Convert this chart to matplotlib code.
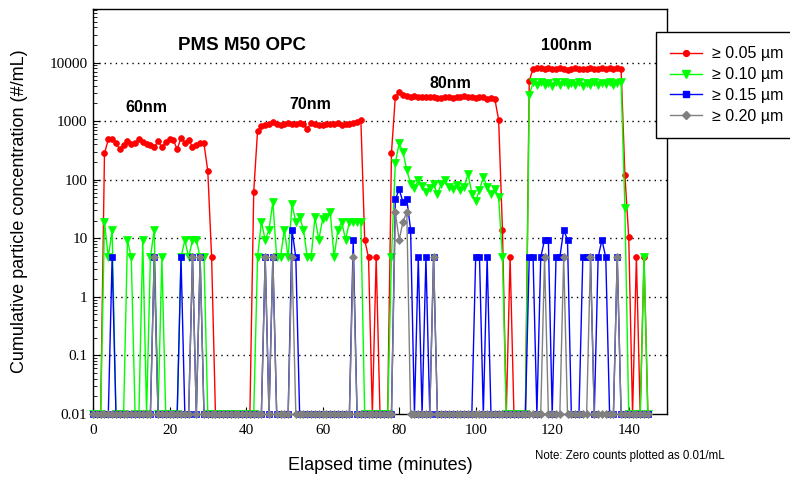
import numpy as np
import matplotlib
matplotlib.use("Agg")
import matplotlib.pyplot as plt
from matplotlib.lines import Line2D

Z = 0.01  # zero counts plotted as 0.01/mL

# elapsed time (minutes), one sample per minute
time_min = list(range(146))

red_005 = [
    Z, Z, Z, 280, 490, 490, 415, 330, 390, 455,
    400, 425, 490, 445, 400, 390, 355, 460, 355, 445,
    490, 475, 330, 520, 425, 475, 365, 390, 425, 415,
    140, 4.7, Z, Z, Z, Z, Z, Z, Z, Z,
    Z, Z, 62, 680, 820, 870, 880, 950, 900, 860,
    880, 940, 900, 880, 920, 900, 740, 930, 880, 860,
    850, 880, 900, 880, 920, 860, 880, 900, 920, 960,
    1050, 9.4, 4.7, Z, 4.7, Z, Z, Z, 290, 2600,
    3100, 2800, 2700, 2600, 2650, 2550, 2600, 2600, 2550, 2600,
    2500, 2500, 2550, 2600, 2450, 2550, 2600, 2650, 2550, 2600,
    2450, 2550, 2600, 2400, 2500, 2400, 1050, 14, Z, 4.7,
    Z, Z, Z, Z, 4900, 7800, 8200, 8000, 7800, 8100,
    7700, 7900, 8100, 7800, 7600, 7900, 8100, 7700, 7900, 7800,
    8100, 7800, 7700, 8000, 7800, 8100, 7800, 8000, 7900, 120,
    10.4, Z, 4.7, Z, 4.7, Z,
]

green_010 = [
    Z, Z, Z, 19, 4.7, 14, Z, Z, Z, 9.4,
    4.7, Z, Z, 9.4, Z, 4.7, 14, Z, 4.7, Z,
    Z, Z, Z, 4.7, 9.4, 4.7, 9.4, 9.4, 4.7, 4.7,
    Z, Z, Z, Z, Z, Z, Z, Z, Z, Z,
    Z, Z, Z, 4.7, 19, 9.4, 14, 42, 4.7, 4.7,
    14, 4.7, 38, 19, 23, 14, 4.7, 4.7, 23, 9.4,
    21, 23, 28, 4.7, 14, 19, 9.4, 19, 19, 19,
    19, Z, Z, Z, Z, Z, Z, Z, 4.7, 194,
    415, 300, 145, 86, 73, 98, 77, 62, 73, 86,
    56, 86, 98, 75, 70, 80, 67, 75, 127, 58,
    44, 66, 111, 75, 58, 70, 50, 4.7, Z, Z,
    Z, Z, Z, Z, 2750, 4600, 4100, 4700, 4200, 4500,
    4000, 4600, 4200, 4700, 4100, 4500, 4200, 4600, 4000, 4500,
    4200, 4700, 4100, 4500, 4300, 4600, 4100, 4500, 4700, 33,
    Z, Z, Z, Z, 4.7, Z,
]

blue_015 = [
    Z, Z, Z, Z, Z, 4.7, Z, Z, Z, Z,
    Z, Z, Z, Z, Z, Z, 4.7, Z, Z, Z,
    Z, Z, Z, 4.7, Z, Z, 4.7, Z, 4.7, Z,
    Z, Z, Z, Z, Z, Z, Z, Z, Z, Z,
    Z, Z, Z, Z, Z, 4.7, Z, 4.7, Z, Z,
    Z, Z, 14, 4.7, Z, Z, Z, Z, Z, Z,
    Z, Z, Z, Z, Z, Z, Z, Z, 9.4, Z,
    Z, Z, Z, Z, Z, Z, Z, Z, Z, 46,
    68, 42, 46, 14, Z, 4.7, Z, 4.7, Z, 4.7,
    Z, Z, Z, Z, Z, Z, Z, Z, Z, Z,
    4.7, 4.7, Z, 4.7, Z, Z, Z, Z, Z, Z,
    Z, Z, Z, Z, 4.7, 4.7, Z, 4.7, 9.4, 9.4,
    Z, 4.7, 4.7, 14, 9.4, Z, Z, Z, 4.7, 4.7,
    4.7, Z, 4.7, 9.4, 4.7, Z, Z, 4.7, Z, Z,
    Z, Z, Z, Z, Z, Z,
]

gray_020 = [
    Z, Z, Z, Z, Z, Z, Z, Z, Z, Z,
    Z, Z, Z, Z, Z, Z, 4.7, Z, Z, Z,
    Z, Z, Z, Z, Z, Z, 4.7, Z, 4.7, Z,
    Z, Z, Z, Z, Z, Z, Z, Z, Z, Z,
    Z, Z, Z, Z, Z, 4.7, Z, 4.7, Z, Z,
    Z, Z, 4.7, Z, Z, Z, Z, Z, Z, Z,
    Z, Z, Z, Z, Z, Z, Z, Z, 4.7, Z,
    Z, Z, Z, Z, Z, Z, Z, Z, Z, 28,
    9.4, 19, 28, Z, Z, Z, Z, Z, Z, 4.7,
    Z, Z, Z, Z, Z, Z, Z, Z, Z, Z,
    Z, Z, Z, Z, Z, Z, Z, Z, Z, Z,
    Z, Z, Z, Z, Z, Z, Z, Z, 4.7, Z,
    Z, Z, Z, 4.7, Z, Z, Z, Z, Z, Z,
    4.7, Z, Z, Z, Z, Z, Z, 4.7, Z, Z,
    Z, Z, Z, Z, Z, Z,
]

legend_labels = ["\u2265 0.05 \u00b5m", "\u2265 0.10 \u00b5m", "\u2265 0.15 \u00b5m", "\u2265 0.20 \u00b5m"]
y_ticks = [0.01, 0.1, 1, 10, 100, 1000, 10000]
y_tick_labels = ["0.01", "0.1", "1", "10", "100", "1000", "10000"]
x_ticks = [0, 20, 40, 60, 80, 100, 120, 140]

series = [
    (red_005, "#ff0000", "o", 4.2),
    (green_010, "#00ff00", "v", 5.5),
    (blue_015, "#0000ff", "s", 4.5),
    (gray_020, "#808080", "D", 4.2),
]

W, H = 790, 479
fig = plt.figure(figsize=(W / 100, H / 100), dpi=100)
ax = fig.add_axes([93 / W, 1 - 414 / H, (667 - 93) / W, (414 - 9) / H])

handles = []
for vals, col, mk, ms in series:
    ax.plot(time_min, vals, color=col, marker=mk, markersize=ms, lw=1.0,
            markeredgewidth=0.5, markeredgecolor=col, clip_on=False, zorder=3)
    handles.append(Line2D([0], [0], color=col, marker=mk, markersize=ms, lw=1.0,
                          markeredgecolor=col))

ax.set_yscale("log")
ax.set_ylim(0.01, 82000)
ax.set_xlim(0, 150)
ax.set_yticks(y_ticks)
ax.set_yticklabels(y_tick_labels)
ax.set_xticks(x_ticks)
ax.set_xticklabels([str(v) for v in x_ticks])
ax.yaxis.set_minor_locator(matplotlib.ticker.LogLocator(base=10, subs=np.arange(2, 10)))
ax.yaxis.set_minor_formatter(matplotlib.ticker.NullFormatter())
ax.tick_params(axis="both", which="both", direction="in")
ax.tick_params(axis="y", which="major", length=5, pad=4)
ax.tick_params(axis="y", which="minor", length=3)
ax.tick_params(axis="x", which="major", length=5, pad=7)
for lab in ax.get_xticklabels() + ax.get_yticklabels():
    lab.set_fontfamily("Liberation Serif")
    lab.set_fontsize(11)

for y in y_ticks[1:]:
    ax.axhline(y, color="black", lw=1.0, ls=(0, (1, 3)), zorder=1)

for sp in ax.spines.values():
    sp.set_linewidth(1.0)

ann = dict(transform=ax.transAxes, ha="center", va="center", fontweight="bold",
           fontfamily="Liberation Sans")
ax.text(0.2596, 0.911, "PMS M50 OPC", fontsize=13.5, **ann)
ax.text(0.0923, 0.7556, "60nm", fontsize=11.5, **ann)
ax.text(0.378, 0.765, "70nm", fontsize=11.5, **ann)
ax.text(0.622, 0.815, "80nm", fontsize=11.5, **ann)
ax.text(0.824, 0.909, "100nm", fontsize=11.5, **ann)

fig.text(20 / W, 1 - 211 / H, "Cumulative particle concentration (#/mL)", rotation=90,
         ha="center", va="center", fontsize=13, fontfamily="Liberation Sans")
fig.text(380 / W, 1 - 465 / H, "Elapsed time (minutes)", ha="center", va="center",
         fontsize=13, fontfamily="Liberation Sans")
fig.text(535 / W, 1 - 456 / H, "Note: Zero counts plotted as 0.01/mL", ha="left",
         va="center", fontsize=8.3, fontfamily="Liberation Sans")

leg = fig.legend(handles, legend_labels, loc="upper left",
                 bbox_to_anchor=(656 / W, 1 - 32 / H), frameon=True, fancybox=False,
                 edgecolor="black", framealpha=1, borderpad=0.9, labelspacing=0.36,
                 handlelength=2.0, handletextpad=0.6, borderaxespad=0,
                 prop={"family": "Liberation Sans", "size": 11.5})
leg.get_frame().set_linewidth(1.0)

fig.savefig("out.png", dpi=100)
